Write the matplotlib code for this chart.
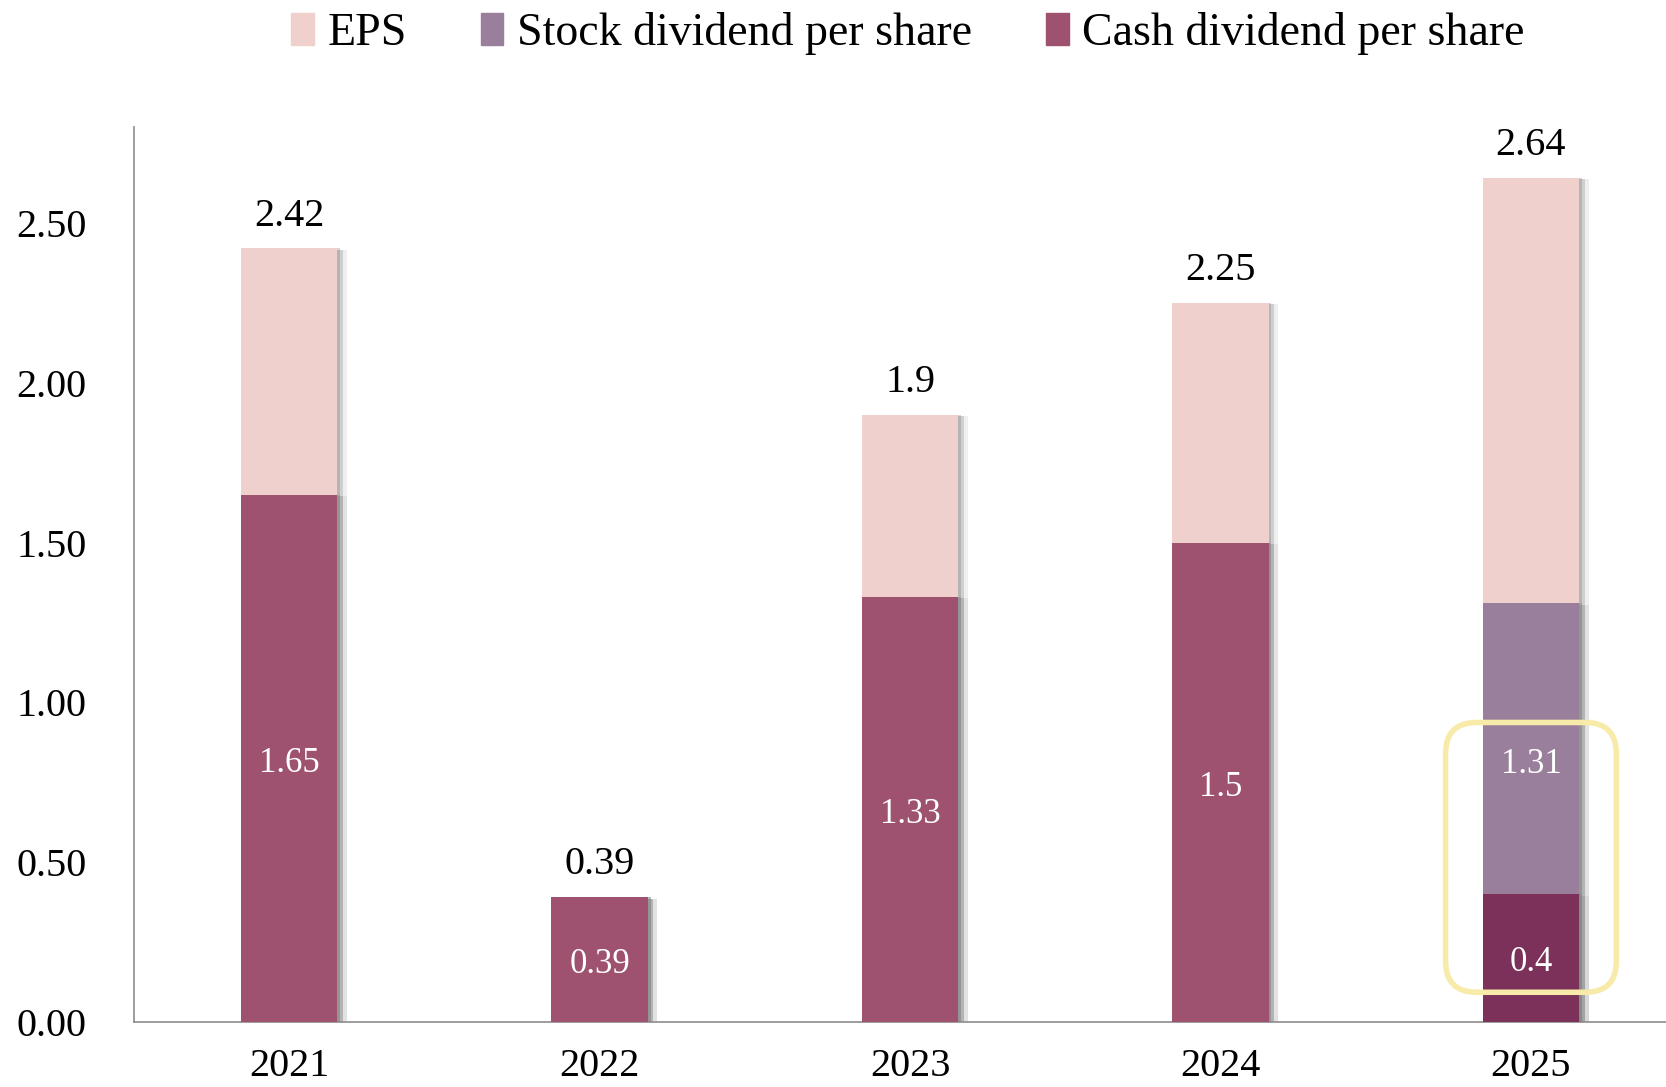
import matplotlib
matplotlib.use("Agg")
import matplotlib.pyplot as plt
import matplotlib.patheffects as pe
from matplotlib.patches import FancyBboxPatch, Patch
import numpy as np

plt.rcParams['font.family'] = ['Liberation Serif', 'DejaVu Serif']

years = ['2021', '2022', '2023', '2024', '2025']
eps = [2.42, 0.39, 1.9, 2.25, 2.64]
cash_div = [1.65, 0.39, 1.33, 1.5, 0.4]
stock_div = [0, 0, 0, 0, 1.31]

c_eps = '#efd0cd'
c_stock = '#9a7f9c'
c_cash = '#9e5270'
c_cash_last = '#7b3159'

fig = plt.figure(figsize=(16.66, 10.87), dpi=100)
ax = fig.add_axes([0.0804, 0.0598, 0.9196, 0.8234])

x = np.arange(len(years))
w = 0.31
# soft shadow on the right side of each bar
shadow = [pe.SimplePatchShadow(offset=(7, -1), shadow_rgbFace='#999999', alpha=0.15),
          pe.SimplePatchShadow(offset=(4, -1), shadow_rgbFace='#888888', alpha=0.3),
          pe.SimplePatchShadow(offset=(2, 0), shadow_rgbFace='#777777', alpha=0.3),
          pe.Normal()]

# EPS behind everything
b_eps = ax.bar(x, eps, w, color=c_eps, zorder=2)
for p in b_eps:
    p.set_path_effects(shadow)

# stock dividend sits behind cash dividend
b_stock = ax.bar(x, stock_div, w, color=c_stock, zorder=3)
for p in b_stock:
    p.set_path_effects(shadow)

cash_colors = [c_cash] * (len(years) - 1) + [c_cash_last]
b_cash = ax.bar(x, cash_div, w, color=cash_colors, zorder=4)
for p in b_cash:
    p.set_path_effects(shadow)

# labels on top
for i, v in enumerate(eps):
    ax.annotate(f'{v:g}', (x[i], v), xytext=(0, 10), textcoords='offset points',
                ha='center', va='bottom', fontsize=29, color='black', zorder=6)

# labels inside bars
for i, v in enumerate(cash_div):
    ax.text(x[i], v / 2 - 0.015, f'{v:g}', ha='center', va='center', fontsize=25,
            color='white', zorder=6)
for i, v in enumerate(stock_div):
    if v > 0:
        ax.text(x[i], (v + cash_div[i]) / 2 - 0.05, f'{v:g}', ha='center', va='center',
                fontsize=25, color='white', zorder=6)

# highlight box around 2025
hl = FancyBboxPatch((x[4] - 0.175, 0.19), 0.35, 0.65,
                    boxstyle='round,pad=0.1,rounding_size=0.1',
                    mutation_aspect=0.97, fill=False, edgecolor='#f8ebaa',
                    linewidth=4, zorder=7, clip_on=False)
ax.add_patch(hl)

ax.set_xlim(-0.5, 4.435)
ax.set_ylim(0, 2.8)
ax.set_yticks([0, 0.5, 1.0, 1.5, 2.0, 2.5])
ax.set_yticklabels([f'{t:.2f}' for t in [0, 0.5, 1.0, 1.5, 2.0, 2.5]])
ax.set_xticks(x)
ax.set_xticklabels(years)
ax.tick_params(axis='y', length=0, pad=34, labelsize=29)
ax.tick_params(axis='x', length=0, pad=19, labelsize=29)

for s in ['top', 'right']:
    ax.spines[s].set_visible(False)
ax.spines['left'].set_color('#8c8c8c')
ax.spines['bottom'].set_color('#8c8c8c')
ax.spines['left'].set_linewidth(1.2)
ax.spines['bottom'].set_linewidth(1.2)

handles = [Patch(color=c_eps, label='EPS'),
           Patch(color=c_stock, label='Stock dividend per share'),
           Patch(color=c_cash, label='Cash dividend per share')]
fig.legend(handles=handles, loc='upper center', bbox_to_anchor=(0.545, 1.027), ncol=3,
           frameon=False, fontsize=33, handlelength=0.5, handleheight=0.7,
           handletextpad=0.3, columnspacing=1.6)

fig.savefig('out.png', dpi=100)
